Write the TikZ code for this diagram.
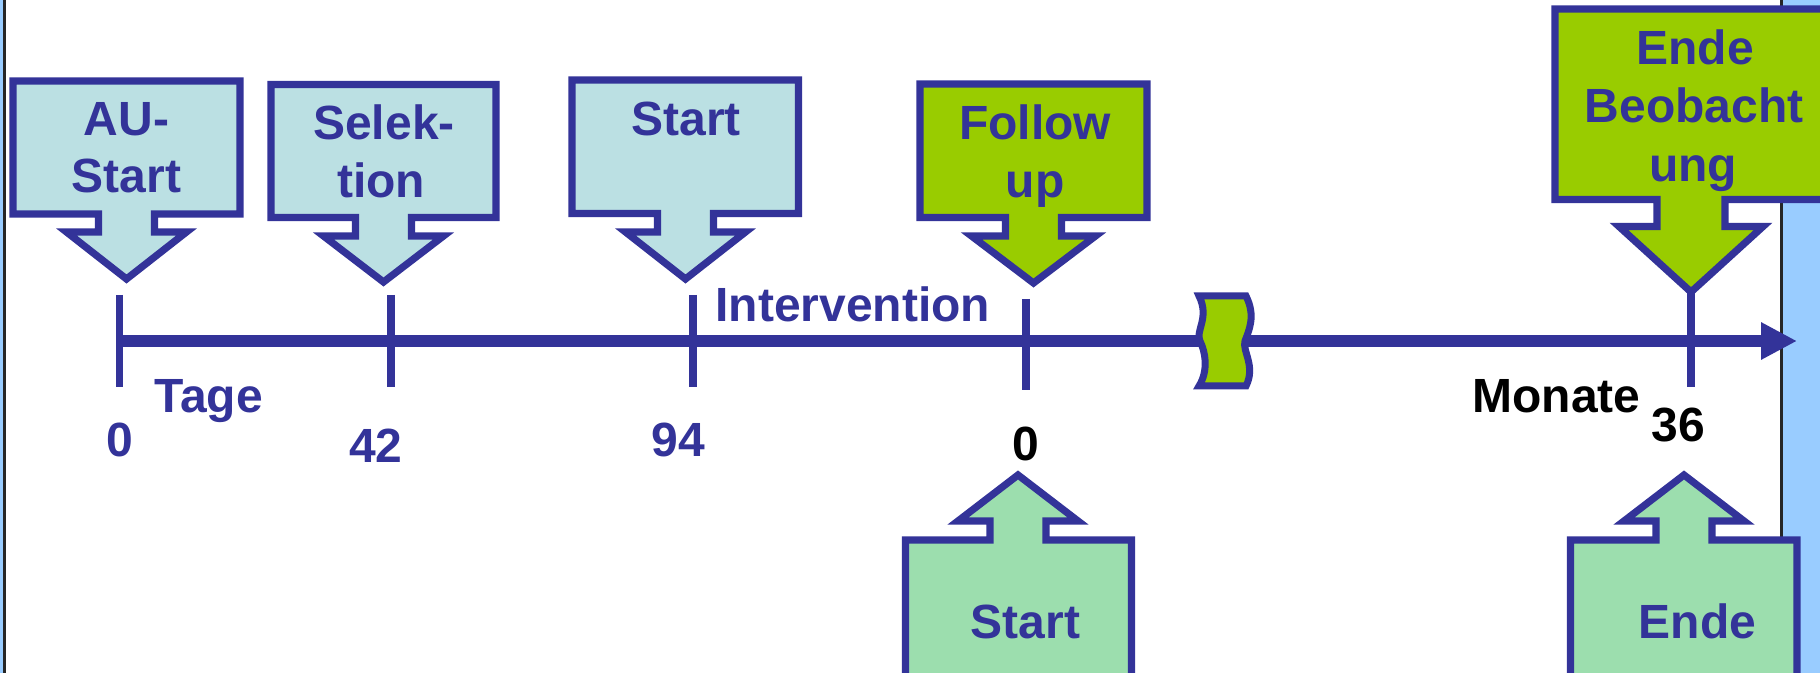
\documentclass[tikz,border=0pt]{standalone}
\usepackage{fontspec}
\setmainfont{Liberation Sans}
\usetikzlibrary{arrows.meta}
\definecolor{dblue}{HTML}{333399}
\definecolor{cyanfill}{HTML}{BBE0E3}
\definecolor{limefill}{HTML}{99CC00}
\definecolor{mintfill}{HTML}{9CDEAE}
\definecolor{stripblue}{HTML}{99CCFF}
\tikzset{
  lbl/.style={font=\bfseries\fontsize{24}{29}\selectfont, text=dblue, inner sep=0pt, anchor=base},
  callbox/.style={draw=dblue, line width=3.6pt, line join=miter, miter limit=10},
  tickline/.style={draw=dblue, line width=3.6pt},
  axisline/.style={draw=dblue, line width=6pt, -{Triangle[length=18pt,width=17.5pt]}},
}
% #1 fill, #2 L, #3 R, #4 far edge, #5 near edge, #6 cx, #7 shoulder y, #8 tip y
\newcommand\callshape[8]{%
  \path[callbox, fill=#1] (#2,#4) -- (#2,#5) -- ({#6-\stemhalf},#5) -- ({#6-\stemhalf},#7)
    -- ({#6-\headhalf},#7) -- (#6,#8) -- ({#6+\headhalf},#7) -- ({#6+\stemhalf},#7)
    -- ({#6+\stemhalf},#5) -- (#3,#5) -- (#3,#4) -- cycle;}
\begin{document}
\begin{tikzpicture}[x=0.5pt,y=-0.5pt]
\useasboundingbox (0,0) rectangle (1820,673);
\clip (0,0) rectangle (1820,673);
% background and side strips
\fill[white] (0,0) rectangle (1820,673);
\fill[stripblue] (0,0) rectangle (3.5,673);
\fill[black!85] (3.3,0) rectangle (6,673);
\fill[stripblue] (1782,0) rectangle (1820,673);
\fill[black!85] (1780,0) rectangle (1783,673);

% down callouts
\def\stemhalf{28}\def\headhalf{60}
\callshape{cyanfill}{13}{240}{81}{214}{126.5}{232}{279}
\callshape{cyanfill}{271}{496}{84.5}{217.5}{383.5}{236}{282}
\callshape{cyanfill}{572}{798.5}{80}{213.5}{685.5}{232}{279}
\def\headhalf{62}
\callshape{limefill}{920}{1147}{84}{217.5}{1033.5}{236}{283}
\def\stemhalf{34}\def\headhalf{72}
\callshape{limefill}{1555}{1831}{9}{199.5}{1691}{226.5}{292}
% up callouts
\def\stemhalf{28}\def\headhalf{60}
\callshape{mintfill}{905.5}{1131.5}{700}{540}{1018}{521}{475}
\callshape{mintfill}{1570.5}{1797}{700}{540}{1684}{521}{475}

% axis
\coordinate (axL) at (116,341);
\coordinate (axR) at (1797,341);
\draw[axisline] (axL) -- (axR);
% ticks
\coordinate (t0a) at (119.5,295);  \coordinate (t0b) at (119.5,387);
\coordinate (t1a) at (391,295);    \coordinate (t1b) at (391,387);
\coordinate (t2a) at (693,295);    \coordinate (t2b) at (693,387);
\coordinate (t3a) at (1026,299);   \coordinate (t3b) at (1026,390);
\coordinate (t4a) at (1691,292);   \coordinate (t4b) at (1691,387);
\draw[tickline] (t0a) -- (t0b);
\draw[tickline] (t1a) -- (t1b);
\draw[tickline] (t2a) -- (t2b);
\draw[tickline] (t3a) -- (t3b);
\draw[tickline] (t4a) -- (t4b);

% axis break symbol
\path[draw=dblue, fill=limefill, line width=3.5pt, line join=miter]
  (1199,296) .. controls (1210,318) and (1195,331) .. (1200,341)
  .. controls (1205,351) and (1209,370) .. (1199,386)
  -- (1246,386)
  .. controls (1256,366) and (1242,351) .. (1245,341)
  .. controls (1249,330) and (1256,316) .. (1246,296) -- cycle;

% texts in callouts
\node[lbl] (au1) at (126.5,136) {AU-};
\node[lbl] (au2) at (126.5,193) {Start};
\node[lbl] (se1) at (384,140) {Selek-};
\node[lbl] (se2) at (381,198) {tion};
\node[lbl] (st) at (686,136) {Start};
\node[lbl] (fu1) at (1035,140) {Follow};
\node[lbl] (fu2) at (1035,198) {up};
\node[lbl] (eb1) at (1695,65) {Ende};
\node[lbl] (eb2) at (1694,123) {Beobacht};
\node[lbl] (eb3) at (1693,182) {ung};
\node[lbl] (sb) at (1025.5,638) {Start};
\node[lbl] (ebot) at (1697.5,638) {Ende};
% axis labels
\node[lbl,anchor=base west] (iv) at (715,322) {Intervention};
\node[lbl,anchor=base west] (tg) at (154,413) {Tage};
\node[lbl] (n0) at (120,457) {0};
\node[lbl] (n42) at (376,462) {42};
\node[lbl] (n94) at (678,457) {94};
\node[lbl,text=black] (m0) at (1026,460) {0};
\node[lbl,text=black,anchor=base west] (mo) at (1472,413) {Monate};
\node[lbl,text=black] (m36) at (1678,442) {36};
\end{tikzpicture}
\end{document}
